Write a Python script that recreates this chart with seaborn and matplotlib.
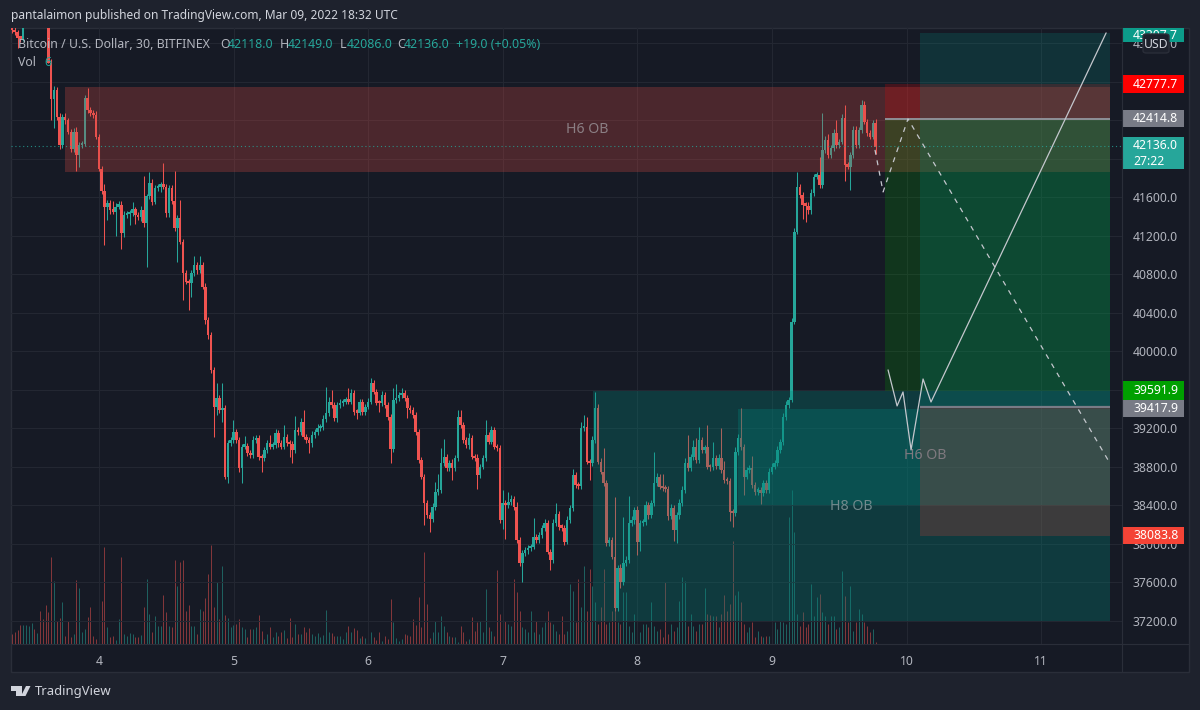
import numpy as np
import pandas as pd
import seaborn as sns
import matplotlib
matplotlib.use("Agg")
import matplotlib.pyplot as plt
from matplotlib.patches import Rectangle, Polygon, FancyBboxPatch
from matplotlib.lines import Line2D
from matplotlib.transforms import Bbox, IdentityTransform, TransformedBbox

# ---------- data: 30 minute candles ----------
first_open = 43400
closes = [
 43340,43320,43260,43250,43500,43620,43700,43760,43720,43800,
 43760,43700,43640,43000,42620,42717,42440,42146,42440,42400,
 42284,42100,42280,42040,42146,42160,42630,42510,42475,42460,
 42232,41900,41670,41505,41540,41470,41453,41505,41523,41228,
 41419,41430,41440,41475,41419,41400,41470,41330,41610,41748,
 41557,41696,41713,41730,41713,41436,41696,41560,41280,41384,
 41142,40813,40726,40709,40813,40899,40847,40899,40674,40328,
 40172,39808,39427,39514,39393,39410,38700,39047,39081,39168,
 39081,38787,39012,39020,38943,38925,39081,39098,38908,38890,
 38977,39047,39012,39030,39150,39047,39012,39116,39047,39040,
 38977,39185,39167,39271,39116,39081,39046,39133,39167,39202,
 39219,39296,39358,39479,39444,39306,39444,39462,39479,39496,
 39479,39566,39375,39365,39479,39375,39427,39479,39670,39583,
 39469,39460,39548,39444,39323,38984,39496,39514,39548,39566,
 39514,39410,39393,39340,39167,38873,38700,38423,38302,38257,
 38388,38544,38561,38838,38908,38786,38838,38786,38890,39323,
 39237,39081,39029,39098,38908,38890,38717,38804,38890,39133,
 39064,39185,39012,38994,38250,38423,38406,38440,38465,38388,
 38042,37800,37903,37938,37955,37973,38077,38042,38094,38163,
 38215,37921,37834,38215,38309,38180,38170,38025,38250,38371,
 38717,38613,38600,39202,39219,38856,38838,39081,39410,38856,
 38752,38630,38007,38042,37869,37332,37747,37609,37799,37834,
 38215,38250,38353,38024,38215,38225,38405,38302,38423,38630,
 38700,38596,38579,38568,38291,38371,38146,38301,38423,38561,
 38838,38786,38907,39011,38873,39081,38977,39011,38804,38797,
 38890,38810,38890,38769,38665,38655,38336,38319,38959,39098,
 39011,38700,38769,38786,38613,38544,38561,38526,38630,38561,
 38752,38804,38838,38977,39063,39323,39444,39496,40310,41245,
 41713,41626,41522,41515,41470,41644,41817,41834,41730,42094,
 42198,42042,42111,42267,42146,42180,42423,41938,41921,42042,
 42302,42146,42302,42561,42388,42267,42232,42371,42128,42136,
]
wick_up = [
 30,30,20,20,40,40,40,40,40,40, 40,40,40,40,40,40,30,40,30,40,
 30,30,40,50,30,30,30,110,30,30, 40,30,30,70,30,30,90,40,40,40,
 40,30,30,80,30,30,40,350,30,120, 40,30,30,30,225,30,30,30,310,30,
 190,30,30,30,30,90,30,90,30,40, 30,30,30,160,30,260,30,30,30,120,
 30,30,30,100,30,30,40,30,30,30, 30,30,90,30,40,30,30,120,30,30,
 30,140,30,40,120,30,30,40,30,40, 30,40,270,50,120,30,30,40,30,30,
 120,40,30,30,30,30,30,40,50,30, 30,30,40,30,30,30,120,150,30,50,
 30,30,30,30,30,30,30,30,30,30, 40,100,170,160,180,30,30,40,30,70,
 70,30,30,50,30,30,40,30,30,160, 30,40,30,30,30,140,30,100,40,30,
 50,30,30,30,30,30,190,30,30,30, 40,30,30,40,120,30,30,30,40,30,
 60,30,30,60,120,100,30,40,170,40, 40,240,30,30,30,620,30,40,485,40,
 280,40,30,40,30,30,40,30,30,330, 40,30,130,30,30,40,30,30,40,40,
 50,295,30,70,90,130,30,20,225,30, 170,30,40,310,90,30,30,30,50,40,
 310,30,30,30,128,30,30,30,30,30, 40,40,30,40,30,40,40,30,40,40,
 150,30,30,30,40,40,30,30,190,380, 40,60,30,40,140,30,40,140,30,30,
 40,40,30,50,40,30,30,30,40,10,
]
wick_dn = [
 30,30,110,40,30,40,40,40,40,40, 40,40,40,0,220,300,40,40,30,40,
 30,30,30,170,120,30,30,30,30,30, 30,30,30,400,140,40,30,250,30,166,
 40,30,120,30,90,30,40,40,450,30, 40,30,30,60,30,40,40,30,30,346,
 30,277,30,277,139,30,40,30,30,40, 40,30,311,87,30,130,30,70,30,30,
 30,40,156,30,30,30,30,30,40,138, 30,30,30,30,30,40,30,30,30,140,
 137,30,30,30,30,30,100,40,30,30, 30,30,30,30,30,30,40,30,30,30,
 30,30,30,70,30,30,30,30,30,30, 30,90,30,30,30,146,30,30,30,30,
 30,100,30,30,30,30,30,230,30,130, 30,30,30,30,30,30,30,120,30,30,
 30,30,30,40,30,30,150,30,30,30, 30,30,30,30,30,90,350,30,30,30,
 30,30,190,30,40,30,30,30,30,30, 30,30,100,30,30,30,30,40,30,30,
 30,30,30,30,30,30,170,30,30,30, 30,30,30,30,30,30,30,70,30,30,
 30,30,40,140,100,30,30,40,30,30, 30,30,30,30,40,30,120,140,40,30,
 30,30,30,30,30,30,30,30,30,40, 30,30,30,30,30,30,100,140,30,30,
 30,190,30,30,30,30,40,110,30,30, 30,30,30,30,30,30,30,30,20,20,
 30,30,150,170,40,40,30,30,30,30, 30,30,30,30,30,30,30,170,30,243,
 30,30,30,30,30,30,30,30,80,5,
]
volumes = [
 30,35,42,58,58,56,55,62,45,32,98,75,117,97,262,190,70,78,127,25,
 70,22,30,193,168,35,45,80,112,25,15,60,128,290,50,22,25,12,75,262,
 30,25,32,30,20,22,28,110,195,90,35,85,55,55,147,95,55,50,253,175,
 247,252,98,118,55,55,30,105,100,137,210,298,110,185,75,235,88,78,50,58,
 60,75,50,45,20,45,45,52,88,38,15,30,50,22,35,25,35,42,18,78,
 22,60,30,30,50,35,48,30,25,32,20,28,103,35,32,25,25,25,15,35,
 55,35,48,42,18,25,18,50,35,22,12,35,8,25,15,135,65,18,10,15,
 30,28,25,75,58,142,50,275,120,18,35,70,35,85,55,35,25,
 22,22,5,55,35,10,15,80,40,65,68,35,165,50,40,25,222,90,155,70,
 60,55,195,155,100,50,45,35,98,35,70,30,50,65,100,65,60,40,30,85,
 30,40,180,160,65,195,110,235,100,225,175,125,60,110,225,60,65,100,160,65,
 60,155,155,55,35,90,50,35,60,60,50,125,55,40,45,20,185,30,60,40,
 50,130,200,190,55,90,55,40,60,60,168,90,88,85,85,50,90,148,100,120,
 310,148,160,125,60,35,50,65,20,40,25,20,25,25,35,65,45,70,65,60,
 382,462,337,90,55,95,50,60,180,85,140,150,95,85,60,85,85,45,50,220,
 145,65,175,40,65,105,90,65,55,35,45,5,
]
n = min(len(closes), len(wick_up), len(wick_dn), len(volumes))
day_start = 3.353
candles_per_day = 48

day_ticks = [4, 5, 6, 7, 8, 9, 10, 11]
price_ticks = [36800 + 400 * k for k in range(17)]

# zones
h6_upper = (3.747, 11.508, 41865, 42748)
h8_zone = (7.670, 11.508, 37200, 39590)
h6_lower = (8.747, 11.508, 38405, 39403)
# positions
short_span = (9.840, 11.508)
short_stop, short_entry, short_target = 42777.7, 42414.8, 39591.9
long_span = (10.100, 11.508)
long_target, long_entry, long_stop = 43307.7, 39417.9, 38083.8
# hand-drawn projection paths
solid_days = [9.862, 9.929, 9.973, 10.033, 10.122, 10.181, 11.482]
solid_prices = [39808, 39434, 39579, 38977, 39714, 39475, 43309]
dash_days = [9.765, 9.825, 10.010, 11.496]
dash_prices = [42094, 41657, 42416, 38873]
last_price = 42136.0

# ---------- frame ----------
W, H = 1200, 710
BG, PANEL = "#1e222d", "#161a25"
GRID, BORDER = "#232732", "#2a2e39"
UP, DOWN = "#26a69a", "#ef5350"
TXT, TICK = "#d1d4dc", "#b2b5be"

sns.set_theme(style="dark", rc={"axes.facecolor": PANEL, "figure.facecolor": BG})
plt.rcParams["font.family"] = ["Noto Sans", "DejaVu Sans"]

fig = plt.figure(figsize=(W / 100, H / 100), dpi=100, facecolor=BG)
def fx(x): return x / W
def fy(y): return 1 - y / H

frame = Rectangle((fx(11), fy(672)), fx(1189) - fx(11), fy(28) - fy(672),
                  transform=fig.transFigure, facecolor=PANEL, edgecolor=BORDER, lw=1, zorder=0)
fig.add_artist(frame)
rect = [fx(11), fy(644), fx(1122) - fx(11), fy(28) - fy(644)]
ax_vol = fig.add_axes(rect, zorder=1, facecolor="none")
ax = fig.add_axes(rect, zorder=2, facecolor="none", sharex=ax_vol)

x_left, x_right = 3.346, 11.600
p_low, p_high = 36961, 43360
ax.set_xlim(x_left, x_right)
ax.set_ylim(p_low, p_high)

days = day_start + np.arange(n) / candles_per_day
c = np.array(closes[:n], dtype=float)
o = np.r_[first_open, c[:-1]]
colors = np.where(c >= o, UP, DOWN)
df = pd.DataFrame({"day": days, "open": o, "close": c,
                   "high": np.maximum(o, c) + np.array(wick_up[:n]),
                   "low": np.minimum(o, c) - np.array(wick_dn[:n]),
                   "volume": volumes[:n], "color": colors})

# volume panel
ax_vol.set_ylim(0, 1848)
ax_vol.vlines(df.day, 0, df.volume, colors=df.color, lw=0.72, alpha=0.5)
ax_vol.set_yticks([])
ax_vol.tick_params(labelbottom=False, length=0)
for s in ax_vol.spines.values():
    s.set_visible(False)

# grid
ax.set_xticks(day_ticks)
ax.set_xticklabels([str(d) for d in day_ticks])
ax.set_yticks(price_ticks)
ax.set_yticklabels([f"{p:.1f}" for p in price_ticks])
ax.yaxis.tick_right()
ax.grid(True, color=GRID, lw=0.8)
ax.set_axisbelow(True)
ax.tick_params(axis="x", colors=TICK, labelsize=8.8, length=0, pad=8)
ax.tick_params(axis="y", colors=TICK, labelsize=8.8, length=0, pad=7.5)
for s in ax.spines.values():
    s.set_visible(False)
for t in ax.get_yticklabels():
    t.set_ha("left")

# candles
ax.vlines(df.day, df.low, df.high, colors=df.color, lw=0.75, zorder=3)
ax.bar(df.day, (df.close - df.open).abs().clip(lower=22), bottom=df[["open", "close"]].min(axis=1),
       width=2.5 / 134.6, color=df.color, lw=0, zorder=3)

# zones and positions
def zone(x0, x1, y0, y1, color, alpha):
    ax.add_patch(Rectangle((x0, y0), x1 - x0, y1 - y0, facecolor=color, edgecolor="none",
                           alpha=alpha, zorder=4))
zone(*h6_upper, "#d84a42", 0.28)
zone(*h8_zone, "#00857a", 0.30)
zone(*h6_lower, "#00857a", 0.30)
zone(short_span[0], short_span[1], short_entry, short_stop, "#ff0000", 0.20)
zone(short_span[0], short_span[1], short_target, short_entry, "#00aa00", 0.20)
zone(long_span[0], long_span[1], long_entry, long_target, "#009688", 0.20)
zone(long_span[0], long_span[1], long_stop, long_entry, "#f44336", 0.20)
ax.hlines(short_entry, *short_span, color="#8e9097", lw=1.4, zorder=5)
ax.hlines(long_entry, *long_span, color="#787b86", lw=1.6, zorder=5)

ax.axhline(last_price, color=UP, lw=0.8, ls=(0, (1, 2.5)), alpha=0.8, zorder=5)

sns.lineplot(x=solid_days, y=solid_prices, ax=ax, sort=False, color="#c4c7cd", lw=0.9,
             errorbar=None, zorder=6)
sns.lineplot(x=dash_days, y=dash_prices, ax=ax, sort=False, color="#c4c7cd", lw=0.9,
             linestyle=(0, (4, 4.5)), errorbar=None, zorder=6)
ax.set_xlim(x_left, x_right)
ax.set_ylim(p_low, p_high)
ax.set_xlabel("")
ax.set_ylabel("")

ob_kw = dict(ha="center", va="center", fontsize=10.2, fontweight="semibold", zorder=7)
ax.text(7.626, 42301, "H6 OB", color="#8b7f84", **ob_kw)
ax.text(9.587, 38385, "H8 OB", color="#728a8d", **ob_kw)
ax.text(10.137, 38914, "H6 OB", color="#807a80", **ob_kw)

# price labels on the axis
y_tr = ax.get_yaxis_transform()
def ax_x(px): return (px - 11) / (1122 - 11)
clip = TransformedBbox(Bbox([[1122, 0], [1189, H - 28]]), IdentityTransform())
def price_tag(price, text, color, y_top, y_bot, tc="white"):
    top = p_high - (y_top - 28) * 10.39
    bot = p_high - (y_bot - 28) * 10.39
    ax.add_patch(Rectangle((1.0, bot), ax_x(1184) - 1.0, top - bot, transform=y_tr, facecolor=color,
                           edgecolor="none", clip_on=False, zorder=10))
    t = ax.text(ax_x(1133), (top + bot) / 2, text, transform=y_tr, color=tc, fontsize=8.8,
                ha="left", va="center", zorder=11, clip_on=True)
    t.set_clip_box(clip)
price_tag(long_target, "43307.7", "#0c9c8a", 28, 42)
price_tag(short_stop, "42777.7", "#ff0000", 75, 93)
price_tag(short_entry, "42414.8", "#787b86", 110, 127)
price_tag(short_target, "39591.9", "#00a000", 381, 400)
price_tag(long_entry, "39417.9", "#787b86", 400, 417)
price_tag(long_stop, "38083.8", "#f44336", 527, 544)
top = p_high - (137 - 28) * 10.39
bot = p_high - (169 - 28) * 10.39
ax.add_patch(Rectangle((1.0, bot), ax_x(1184) - 1.0, top - bot, transform=y_tr, facecolor=UP,
                       edgecolor="none", clip_on=False, zorder=10))
ax.text(ax_x(1133), top - (8.5 * 10.39), "42136.0", transform=y_tr, color="white", fontsize=8.8,
        ha="left", va="center", zorder=11)
ax.text(ax_x(1133), top - (24 * 10.39), "27:22", transform=y_tr, color="white", fontsize=8.8,
        ha="left", va="center", zorder=11)

# fig level lines
for (x0, y0, x1, y1) in [(1122, 28, 1122, 672), (11, 644, 1189, 644)]:
    fig.add_artist(Line2D([fx(x0), fx(x1)], [fy(y0), fy(y1)], color=BORDER, lw=0.8, zorder=20))

# USD chip
fig.add_artist(FancyBboxPatch((fx(1143), fy(53)), fx(26), 19 / H, transform=fig.transFigure,
                              boxstyle="round,pad=0,rounding_size=0.003", facecolor="#1c202b",
                              edgecolor="#2a2e39", lw=1, zorder=30))
fig.text(fx(1156), fy(44), "USD", color=TXT, fontsize=8.8, ha="center", va="center", zorder=31)

# header and legend text
fig.text(fx(11), fy(16), "pantalaimon published on TradingView.com, Mar 09, 2022 18:32 UTC",
         color=TXT, fontsize=8.6, ha="left", va="center")
leg_y = fy(44)
def leg(x, s, col=TICK, y=leg_y):
    fig.text(fx(x), y, s, color=col, fontsize=8.9, ha="left", va="center", zorder=31)
leg(18, "Bitcoin / U.S. Dollar, 30, BITFINEX")
leg(220, "O"); leg(228, "42118.0", UP)
leg(280, "H"); leg(288, "42149.0", UP)
leg(340, "L"); leg(347, "42086.0", UP)
leg(397, "C"); leg(404, "42136.0", UP)
leg(456, "+19.0 (+0.05%)", UP)
leg(18, "Vol", TICK, fy(62)); leg(44, "6", UP, fy(62))

# logo
px = lambda pts: [(fx(a), fy(b)) for a, b in pts]
logo = "#d1d4dc"
fig.add_artist(Polygon(px([(10.5, 686), (21.5, 686), (21.5, 696), (16, 696), (16, 690.5), (10.5, 690.5)]),
                       transform=fig.transFigure, facecolor=logo, edgecolor="none"))
fig.add_artist(Polygon(px([(26, 686), (30.5, 686), (25.5, 696), (21, 696)]),
                       transform=fig.transFigure, facecolor=logo, edgecolor="none"))
fig.text(fx(35), fy(691), "TradingView", color=TXT, fontsize=9.4, ha="left", va="center")

fig.savefig("out.png", dpi=100, facecolor=BG)
